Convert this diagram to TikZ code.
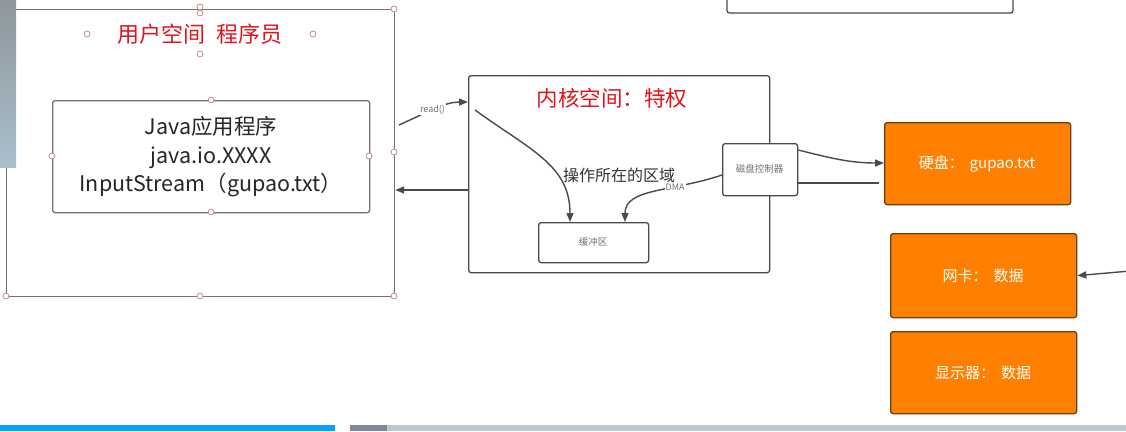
\documentclass[tikz,border=0pt]{standalone}
\usepackage{fontspec}
\setmainfont{Noto Sans CJK SC}
\usetikzlibrary{arrows.meta,calc}
\definecolor{lineg}{HTML}{4A4A4A}
\definecolor{redt}{HTML}{E0141E}
\definecolor{orng}{HTML}{FF8000}
\definecolor{orngb}{HTML}{6B3D10}
\definecolor{handle}{HTML}{C08A8A}
\definecolor{userb}{HTML}{7A6E6E}
\definecolor{smallt}{HTML}{707070}
\definecolor{stripa}{HTML}{8E979C}
\definecolor{stripb}{HTML}{A9BFCC}
\definecolor{barblue}{HTML}{0AA2F5}
\definecolor{bardark}{HTML}{7F8899}
\definecolor{barlight}{HTML}{C0C6D0}
\tikzset{
  boxw/.style={draw=lineg, line width=1.3pt, rounded corners=2.5pt, fill=white, inner sep=0pt, anchor=north west},
  orbox/.style={draw=orngb, line width=1.3pt, rounded corners=2.5pt, fill=orng, inner sep=0pt, anchor=north west, text=white, font=\fontsize{15}{18}\selectfont},
  conn/.style={draw=lineg, line width=1.4pt, -{Triangle[length=9pt,width=7pt]}},
  plain/.style={draw=lineg, line width=1.4pt},
  hdl/.style={circle, draw=handle, fill=white, line width=0.8pt, minimum size=6pt, inner sep=0pt},
  smalllab/.style={text=smallt, font=\fontsize{9}{10}\selectfont, fill=white, inner sep=1pt},
}
\begin{document}
\begin{tikzpicture}[x=1pt,y=-1pt]
\useasboundingbox (0,0) rectangle (1126,431);
\clip (0,0) rectangle (1126,431);
\fill[white] (0,0) rectangle (1126,431);

% partial box at top
\draw[lineg, line width=1.3pt, rounded corners=2.5pt] (727,-10) -- (727,13) -- (1013,13) -- (1013,-10);

% user space
\node[draw=userb, line width=1.2pt, inner sep=0pt, anchor=north west, minimum width=388pt, minimum height=287pt] (user) at (6,9) {};
\node[text=redt, font=\fontsize{22}{24}\selectfont] (utitle) at (200,34) {用户空间\hspace{0.5em}程序员};
\node[boxw, draw=userb, minimum width=317pt, minimum height=112pt] (java) at (52,100) {};
\node[align=center, text=black!85, font=\fontsize{21.5}{28.5}\selectfont] (javat) at (211,157) {Java应用程序\\java.io.XXXX\\InputStream（gupao.txt）};

% handles
\foreach \p/\n in {{394,9}/h1,{394,296}/h2,{6,296}/h3,{200,296}/h4,{394,152}/h5,{200,7}/h6,{200,13}/h7,{87,34}/h8,{313,34}/h9,{200,54}/h10,{211,100}/h11,{211,212}/h12,{52,156}/h13,{369,156}/h14}
  \node[hdl] (\n) at (\p) {};

% left image strip
\shade[top color=stripa, bottom color=stripb] (0,0) rectangle (16,167);

% kernel space
\node[boxw, minimum width=301pt, minimum height=197pt] (kernel) at (468,75) {};
\node[text=redt, font=\fontsize{21.5}{24}\selectfont] (ktitle) at (612,98) {内核空间：特权};
\node[text=black!80, font=\fontsize{16}{18}\selectfont] (oparea) at (619,175) {操作所在的区域};
\node[boxw, minimum width=110pt, minimum height=40pt] (buf) at (538,222) {};
\node[text=smallt, font=\fontsize{9.5}{11}\selectfont] (buft) at (593,242) {缓冲区};
\node[boxw, minimum width=75pt, minimum height=52pt] (ctrl) at (722,143) {};
\node[text=smallt, font=\fontsize{9.5}{11}\selectfont] (ctrlt) at (759.5,169) {磁盘控制器};

% orange devices
\node[orbox, minimum width=186pt, minimum height=82pt] (disk) at (884,122) {};
\node[text=white, font=\fontsize{15}{18}\selectfont] (diskt) at (977,164) {硬盘：\hspace{0.4em}gupao.txt};
\node[orbox, minimum width=186pt, minimum height=84pt] (nic) at (890,233) {};
\node[text=white, font=\fontsize{15}{18}\selectfont] (nict) at (983,276) {网卡：\hspace{0.4em}数据};
\node[orbox, minimum width=186pt, minimum height=82pt] (disp) at (890,331) {};
\node[text=white, font=\fontsize{15}{18}\selectfont] (dispt) at (983,373) {显示器：\hspace{0.4em}数据};

% connectors
\coordinate (r0) at (399,125);
\draw[conn] (r0) .. controls (428,112) and (445,102) .. ($(kernel.north west)+(0,27)$)
  node[pos=0.45, smalllab] (readl) {read()};
\draw[conn] (kernel.west |- 0,190) -- (user.east |- 0,190);
\coordinate (c0) at (475,110);
\draw[conn] (c0) .. controls (530,150) and (570,165) .. ($(buf.north west)+(32,0)$);
\draw[conn] (ctrl.west |- 0,175) .. controls (672,192) and (625,188) .. ($(buf.north west)+(87,0)$)
  node[pos=0.33, smalllab] (dmal) {DMA};
\draw[conn] (ctrl.east |- 0,150) .. controls (830,158) and (850,163) .. (disk.west |- 0,163);
\coordinate (l1) at (879,183);
\draw[plain] (ctrl.east |- 0,183) -- (l1);
\coordinate (n0) at (1130,271);
\draw[conn] (n0) -- (nic.east);

% bottom bar
\fill[barblue] (0,425) rectangle (335,431);
\fill[bardark] (350,425) rectangle (387,431);
\fill[barlight] (387,425) rectangle (1126,431);
\end{tikzpicture}
\end{document}
